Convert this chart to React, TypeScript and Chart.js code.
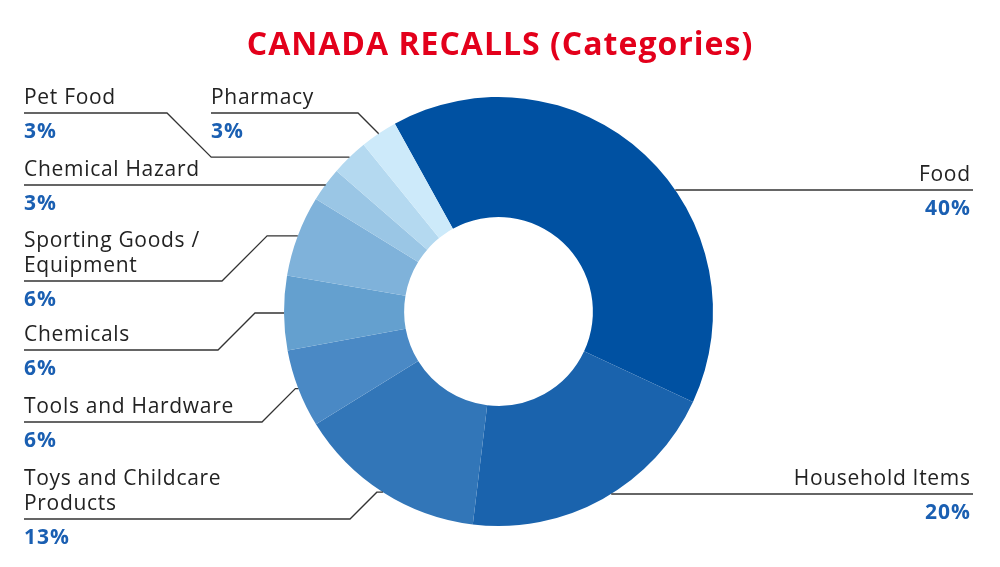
import React, { useEffect, useRef } from "react";
import { Chart, registerables } from "chart.js";

Chart.register(...registerables);

const titleText = "CANADA RECALLS (Categories)";
const labelLines: string[][] = [
  ["Food"],
  ["Household Items"],
  ["Toys and Childcare", "Products"],
  ["Tools and Hardware"],
  ["Chemicals"],
  ["Sporting Goods /", "Equipment"],
  ["Chemical Hazard"],
  ["Pet Food"],
  ["Pharmacy"],
];
const categories = labelLines.map((l) => l.join(" "));
const shares = [40, 20, 14.3, 5.9, 5.6, 6.1, 2.6, 2.8, 2.8];
const pctLabels = ["40%", "20%", "13%", "6%", "6%", "6%", "3%", "3%", "3%"];
const sliceColors = [
  "#0051a2",
  "#1a63ad",
  "#3276b8",
  "#4a89c5",
  "#64a0cf",
  "#7fb2da",
  "#9ac6e5",
  "#b4d9f0",
  "#cdeafa",
];

// label layout (positions only)
const labelLayout = [
  { side: "right", lineY: 190, textX: 970, endX: 973 },
  { side: "right", lineY: 494, textX: 970, endX: 973 },
  { side: "left", lineY: 519, textX: 24, elbowX: 350 },
  { side: "left", lineY: 422, textX: 24, elbowX: 262 },
  { side: "left", lineY: 350, textX: 24, elbowX: 218 },
  { side: "left", lineY: 281, textX: 24, elbowX: 222 },
  { side: "left", lineY: 185, textX: 24, elbowX: 325 },
  { side: "left", lineY: 113, textX: 24, elbowX: 167 },
  { side: "left", lineY: 113, textX: 211, elbowX: 358 },
];

const FONT = "'Open Sans', 'Noto Sans', sans-serif";

const labelPlugin = {
  id: "leaderLabels",
  afterDraw(chart: any) {
    const ctx = chart.ctx;
    const meta = chart.getDatasetMeta(0);
    ctx.save();
    // title
    ctx.fillStyle = "#e3001b";
    ctx.font = `bold 32px ${FONT}`;
    ctx.letterSpacing = "1px";
    ctx.textAlign = "center";
    ctx.textBaseline = "alphabetic";
    ctx.fillText(titleText, 500, 55);

    meta.data.forEach((arc: any, i: number) => {
      const lay: any = labelLayout[i];
      const p = arc.getProps(["x", "y", "startAngle", "endAngle", "outerRadius"], true);
      const mid = (p.startAngle + p.endAngle) / 2;
      const R = p.outerRadius;
      const px = p.x + Math.cos(mid) * R;
      const py = p.y + Math.sin(mid) * R;
      const ly = lay.lineY;

      ctx.strokeStyle = "#333333";
      ctx.lineWidth = 1.3;
      ctx.beginPath();
      if (lay.side === "right") {
        const dy = ly - p.y;
        const sx = p.x + Math.sqrt(Math.max(R * R - dy * dy, 0));
        ctx.moveTo(sx, ly);
        ctx.lineTo(lay.endX, ly);
      } else {
        const d = Math.abs(py - ly);
        ctx.moveTo(lay.textX, ly);
        ctx.lineTo(lay.elbowX, ly);
        ctx.lineTo(lay.elbowX + d, py);
        if (px > lay.elbowX + d) ctx.lineTo(px, py);
      }
      ctx.stroke();

      const lines = labelLines[i];
      const right = lay.side === "right";
      ctx.textAlign = right ? "right" : "left";
      ctx.fillStyle = "#222222";
      ctx.font = `400 21px ${FONT}`;
      ctx.letterSpacing = "0.7px";
      lines.forEach((t, k) => {
        const y = ly - 9 - (lines.length - 1 - k) * 25;
        ctx.fillText(t, lay.textX + (right ? 0.7 : 0), y);
      });
      ctx.fillStyle = "#1a5fb2";
      ctx.font = `bold 21px ${FONT}`;
      ctx.letterSpacing = "1px";
      ctx.fillText(pctLabels[i], lay.textX + (right ? 1 : 0), ly + 25);
    });
    ctx.restore();
  },
};

export default function App() {
  const ref = useRef<HTMLCanvasElement | null>(null);
  useEffect(() => {
    if (!ref.current) return;
    const chart = new Chart(ref.current, {
      type: "doughnut",
      data: {
        labels: categories,
        datasets: [
          {
            data: shares,
            backgroundColor: sliceColors,
            borderWidth: 0,
          },
        ],
      },
      options: {
        responsive: false,
        animation: false,
        rotation: -28.9,
        cutout: "44%",
        layout: { padding: { top: 97, bottom: 41, left: 284, right: 287 } },
        plugins: {
          legend: { display: false },
          tooltip: { enabled: false },
        },
      },
      plugins: [labelPlugin],
    });
    return () => chart.destroy();
  }, []);
  return (
    <div style={{ position: "fixed", left: 0, top: 0, width: 1000, height: 567, background: "#fff" }}>
      <canvas ref={ref} width={1000} height={567} style={{ width: 1000, height: 567 }} />
    </div>
  );
}
